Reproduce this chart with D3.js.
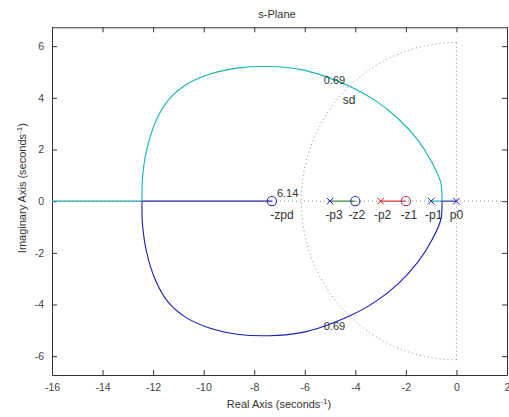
<!DOCTYPE html>
<html>
<head>
<meta charset="utf-8">
<script src="https://cdn.jsdelivr.net/npm/d3@7"></script>
<style>
  html, body { margin: 0; padding: 0; background: #fff; }
  svg { display: block; font-family: "Liberation Sans", Arial, Helvetica, sans-serif; }
</style>
</head>
<body>
<svg id="chart" width="509" height="417"></svg>
<script>
// Root locus in the s-plane: poles, zeros and branch paths (real, imaginary)
const poles = [
  { name: "p0", re: 0 },
  { name: "-p1", re: -1 },
  { name: "-p2", re: -3 },
  { name: "-p3", re: -5 }
];
const zeros = [
  { name: "-z1", re: -2 },
  { name: "-z2", re: -4 },
  { name: "-zpd", re: -7.3 }
];

// Upper complex branch, from the breakaway point round to the break-in point
const upperBranch = [
  [-0.57, 0], [-0.62, 0.72], [-0.97, 1.5], [-1.52, 2.35], [-2.31, 3.2],
  [-3.22, 3.9], [-4.21, 4.44], [-5.2, 4.83], [-6.19, 5.1], [-7.4, 5.21],
  [-8.6, 5.16], [-9.8, 4.9], [-10.74, 4.48], [-11.41, 3.9], [-11.88, 3.12],
  [-12.25, 2.0], [-12.42, 0.9], [-12.44, 0]
];
// Lower complex branch (conjugate path)
const lowerBranch = [
  [-0.57, 0], [-0.62, -0.72], [-0.97, -1.5], [-1.52, -2.35], [-2.31, -3.2],
  [-3.22, -3.9], [-4.21, -4.44], [-5.2, -4.83], [-6.19, -5.1], [-7.4, -5.21],
  [-8.6, -5.16], [-9.8, -4.9], [-10.74, -4.48], [-11.41, -3.9], [-11.88, -3.12],
  [-12.25, -2.0], [-12.42, -0.9], [-12.44, 0]
];

// Real-axis segments of each branch
const blueReal = [[[0, 0], [-0.57, 0]], [[-12.44, 0], [-7.3, 0]]];
const cyanReal = [[[-1, 0], [-0.57, 0]], [[-12.44, 0], [-16, 0]]];
const greenReal = [[[-5, 0], [-4, 0]]];
const redReal = [[[-3, 0], [-2, 0]]];

// Design specification: natural-frequency boundary and damping annotations
const wn = 6.14;
const zetaLabel = "0.69";
const sdPoint = [-4.3, 4.1];

const xTicks = [-16, -14, -12, -10, -8, -6, -4, -2, 0, 2];
const yTicks = [-6, -4, -2, 0, 2, 4, 6];

const colors = { blue: "#1c1cb4", green: "#138a13", red: "#e01818", cyan: "#13b4b4" };

const svg = d3.select("#chart");
const margin = { left: 52, right: 2, top: 27.3, bottom: 42 };
const W = 509, H = 417;

const x = d3.scaleLinear().domain([-16, 2]).range([margin.left, W - margin.right]);
const y = d3.scaleLinear().domain([-6.73, 6.73]).range([H - margin.bottom, margin.top]);

const line = d3.line().x(d => x(d[0])).y(d => y(d[1]));
const smooth = d3.line().x(d => x(d[0])).y(d => y(d[1])).curve(d3.curveCatmullRom.alpha(0.5));

// Plot box and inward ticks
const axisColor = "#333";
const tickText = "#444";
const fmt = d => String(d);
function styleAxis(g, hideLabels) {
  g.selectAll(".domain").attr("stroke", axisColor).attr("stroke-width", 1);
  g.selectAll(".tick line").attr("stroke", axisColor);
  g.selectAll(".tick text").attr("fill", tickText).style("font-size", "10.5px");
  if (hideLabels) g.selectAll(".tick text").remove();
}
svg.append("g").attr("transform", `translate(0,${y.range()[0]})`)
  .call(d3.axisBottom(x).tickValues(xTicks).tickFormat(fmt).tickSize(-5).tickSizeOuter(0).tickPadding(9))
  .call(g => styleAxis(g, false));
svg.append("g").attr("transform", `translate(0,${y.range()[1]})`)
  .call(d3.axisTop(x).tickValues(xTicks).tickSize(-5).tickSizeOuter(0))
  .call(g => styleAxis(g, true));
svg.append("g").attr("transform", `translate(${x.range()[0]},0)`)
  .call(d3.axisLeft(y).tickValues(yTicks).tickFormat(fmt).tickSize(-5).tickSizeOuter(0).tickPadding(8))
  .call(g => styleAxis(g, false));
svg.append("g").attr("transform", `translate(${x.range()[1]},0)`)
  .call(d3.axisRight(y).tickValues(yTicks).tickSize(-5).tickSizeOuter(0))
  .call(g => styleAxis(g, true));

// Dotted guides: the wn half-circle, the imaginary axis and the real axis
const dotted = { stroke: "#8a8a8a", "stroke-width": 1, "stroke-dasharray": "1,3", fill: "none" };
const plot = svg.append("g");
const arcPts = d3.range(90, 270.1, 2).map(a => [wn * Math.cos(a * Math.PI / 180), wn * Math.sin(a * Math.PI / 180)]);
const guides = [arcPts, [[0, -wn], [0, wn]], [[-16, 0], [2, 0]]];

// Branch paths
function drawPath(pts, color, gen) {
  plot.append("path").attr("d", (gen || line)(pts)).attr("fill", "none")
    .attr("stroke", color).attr("stroke-width", 1.1);
}
cyanReal.forEach(s => drawPath(s, colors.cyan));
blueReal.forEach(s => drawPath(s, colors.blue));
greenReal.forEach(s => drawPath(s, colors.green));
redReal.forEach(s => drawPath(s, colors.red));
drawPath(upperBranch, colors.cyan, smooth);
drawPath(lowerBranch, colors.blue, smooth);

guides.forEach(pts => {
  const p = plot.append("path").attr("d", line(pts));
  Object.entries(dotted).forEach(([k, v]) => p.attr(k, v));
});

// Pole markers (x) and zero markers (o)
const poleColor = { "p0": colors.blue, "-p1": colors.blue, "-p2": colors.red, "-p3": colors.blue };
const zeroColor = { "-z1": "#a0306a", "-z2": "#2a2aa0", "-zpd": "#2a2aa0" };
const xs = 3.2;
poles.forEach(p => {
  const cx = x(p.re), cy = y(0);
  plot.append("path")
    .attr("d", `M${cx - xs},${cy - xs}L${cx + xs},${cy + xs}M${cx - xs},${cy + xs}L${cx + xs},${cy - xs}`)
    .attr("stroke", poleColor[p.name]).attr("stroke-width", 1).attr("fill", "none");
});
zeros.forEach(z => {
  plot.append("circle").attr("cx", x(z.re)).attr("cy", y(0)).attr("r", 4.6)
    .attr("fill", "none").attr("stroke", zeroColor[z.name]).attr("stroke-width", 1.1);
});

// Labels for poles and zeros, nudged horizontally from their marks
const labelShift = { "p0": 0, "-p1": 2.5, "-p2": 2, "-p3": 4, "-z1": 3, "-z2": 1.5, "-zpd": 10 };
poles.concat(zeros).forEach(d => {
  svg.append("text")
    .attr("x", x(d.re) + labelShift[d.name])
    .attr("y", y(0) + 18)
    .attr("text-anchor", "middle")
    .style("font-size", "12px").attr("fill", "#333")
    .text(d.name);
});
svg.append("text").attr("x", x(-7.3) + 5).attr("y", y(0) - 4)
  .style("font-size", "11px").attr("fill", "#333").text(wn.toFixed(2));
svg.append("text").attr("x", x(-5.25)).attr("y", y(4.75) + 6)
  .style("font-size", "11px").attr("fill", "#333").text(zetaLabel);
svg.append("text").attr("x", x(-5.25)).attr("y", y(-4.75) + 6)
  .style("font-size", "11px").attr("fill", "#333").text(zetaLabel);
svg.append("text").attr("x", x(sdPoint[0]) - 5).attr("y", y(sdPoint[1]) + 9)
  .style("font-size", "12px").attr("fill", "#333").text("sd");

// Title and axis titles
svg.append("text").attr("x", 277).attr("y", 18).attr("text-anchor", "middle")
  .style("font-size", "11px").attr("fill", "#333").text("s-Plane");

const xl = svg.append("text").attr("x", 279).attr("y", 408).attr("text-anchor", "middle")
  .style("font-size", "11px").attr("fill", "#333");
xl.append("tspan").text("Real Axis (seconds");
xl.append("tspan").attr("dy", -4).style("font-size", "8px").text("-1");
xl.append("tspan").attr("dy", 4).text(")");

const yl = svg.append("text").attr("transform", `translate(26,${y(0) - 13}) rotate(-90)`)
  .attr("text-anchor", "middle").style("font-size", "11px").attr("fill", "#333");
yl.append("tspan").text("Imaginary Axis (seconds");
yl.append("tspan").attr("dy", -4).style("font-size", "8px").text("-1");
yl.append("tspan").attr("dy", 4).text(")");
</script>
</body>
</html>
